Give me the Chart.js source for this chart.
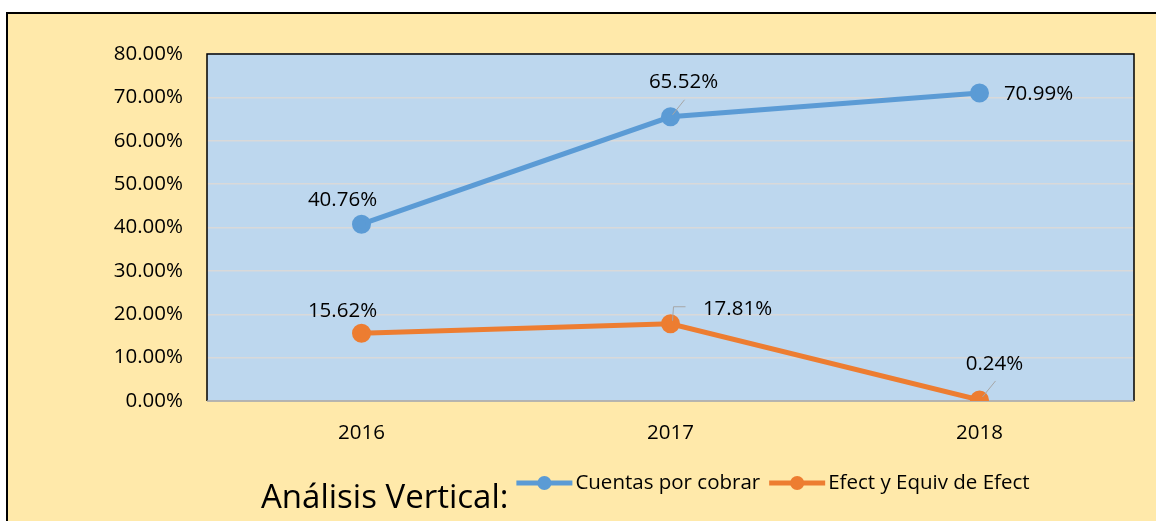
<!DOCTYPE html>
<html>
<head>
<meta charset="utf-8">
<script src="https://cdn.jsdelivr.net/npm/chart.js@4.4.1/dist/chart.umd.min.js"></script>
<style>
  html, body { margin: 0; padding: 0; background: #fff; }
  #wrap { width: 1156px; height: 521px; position: relative; }
</style>
</head>
<body>
<div id="wrap"><canvas id="chart" width="1156" height="521"></canvas></div>
<script>
const years    = ['2016', '2017', '2018'];
const cuentas  = [40.76, 65.52, 70.99];
const efectivo = [15.62, 17.81, 0.24];
const yTicks   = [0, 10, 20, 30, 40, 50, 60, 70, 80];
const legendTitle = 'Análisis Vertical:';

const FONT = "'Open Sans', sans-serif";
const FS = 20.5;
const colorBlue   = '#5B9BD5';
const colorOrange = '#ED7D31';
const colorPanel  = '#FFE9AA';
const colorPlot   = '#BDD7EE';
const colorGrid   = '#D9D9D9';

// label offsets from the point (px), and optional leader line segments
const labelPlacement = [
    [ { dx: -19, dy: -24 }, { dx: 13, dy: -35, lead: [[2, -2], [14, -17]] }, { dx: 59, dy: 1 } ],
    [ { dx: -19, dy: -22 }, { dx: 67, dy: -15, lead: [[2, -3], [3, -17], [15, -17]] }, { dx: 15, dy: -36, lead: [[3, -3], [16, -19]] } ],
];

const frame = {
    id: 'frame',
    beforeDraw(chart) {
        const { ctx, chartArea: a } = chart;
        ctx.save();
        ctx.fillStyle = colorPanel;
        ctx.fillRect(6, 12, chart.width, chart.height);
        ctx.strokeStyle = '#000';
        ctx.lineWidth = 2;
        ctx.beginPath();
        ctx.moveTo(7, chart.height + 2);
        ctx.lineTo(7, 13);
        ctx.lineTo(chart.width + 2, 13);
        ctx.stroke();
        ctx.fillStyle = colorPlot;
        ctx.fillRect(a.left, a.top, a.right - a.left, a.bottom - a.top);
        ctx.restore();
    },
    beforeDatasetsDraw(chart) {
        const { ctx, chartArea: a } = chart;
        ctx.save();
        ctx.strokeStyle = '#000';
        ctx.lineWidth = 1.5;
        ctx.beginPath();
        ctx.moveTo(a.left, a.bottom);
        ctx.lineTo(a.left, a.top);
        ctx.lineTo(a.right, a.top);
        ctx.lineTo(a.right, a.bottom);
        ctx.stroke();
        ctx.strokeStyle = '#A6A6A6';
        ctx.lineWidth = 1.5;
        ctx.beginPath();
        ctx.moveTo(a.left, a.bottom);
        ctx.lineTo(a.right, a.bottom);
        ctx.stroke();
        ctx.restore();
    },
};

const pointLabels = {
    id: 'pointLabels',
    afterDatasetsDraw(chart) {
        const { ctx } = chart;
        ctx.save();
        ctx.font = FS + 'px ' + FONT;
        ctx.fillStyle = '#000';
        ctx.textAlign = 'center';
        ctx.textBaseline = 'middle';
        chart.data.datasets.forEach((ds, i) => {
            chart.getDatasetMeta(i).data.forEach((pt, j) => {
                const p = labelPlacement[i][j];
                if (p.lead) {
                    ctx.strokeStyle = '#A6A6A6';
                    ctx.lineWidth = 1;
                    ctx.beginPath();
                    p.lead.forEach(([lx, ly], k) => {
                        if (k === 0) ctx.moveTo(pt.x + lx, pt.y + ly);
                        else ctx.lineTo(pt.x + lx, pt.y + ly);
                    });
                    ctx.stroke();
                }
                ctx.fillText(ds.data[j].toFixed(2) + '%', pt.x + p.dx, pt.y + p.dy);
            });
        });
        ctx.restore();
    },
};

const bottomLegend = {
    id: 'bottomLegend',
    afterDraw(chart) {
        const { ctx } = chart;
        ctx.save();
        ctx.fillStyle = '#000';
        ctx.textBaseline = 'alphabetic';
        ctx.font = '33px ' + FONT;
        let x = 261;
        ctx.fillText(legendTitle, x, 508);
        x += ctx.measureText(legendTitle).width + 8;
        ctx.font = FS + 'px ' + FONT;
        ctx.textBaseline = 'middle';
        const y = 483;
        chart.data.datasets.forEach(ds => {
            ctx.strokeStyle = ds.borderColor;
            ctx.lineWidth = 5;
            ctx.beginPath();
            ctx.moveTo(x, y);
            ctx.lineTo(x + 56, y);
            ctx.stroke();
            ctx.fillStyle = ds.borderColor;
            ctx.beginPath();
            ctx.arc(x + 28, y, 7, 0, Math.PI * 2);
            ctx.fill();
            ctx.fillStyle = '#000';
            ctx.fillText(ds.label, x + 59, y);
            x += 59 + ctx.measureText(ds.label).width + 9;
        });
        ctx.restore();
    },
};

new Chart(document.getElementById('chart'), {
    type: 'line',
    data: {
        labels: years,
        datasets: [
            {
                label: 'Cuentas por cobrar',
                data: cuentas,
                borderColor: colorBlue,
                backgroundColor: colorBlue,
                borderWidth: 5,
                pointRadius: 7,
                pointHoverRadius: 7,
                tension: 0,
            },
            {
                label: 'Efect y Equiv de Efect',
                data: efectivo,
                borderColor: colorOrange,
                backgroundColor: colorOrange,
                borderWidth: 5,
                pointRadius: 7,
                pointHoverRadius: 7,
                tension: 0,
            },
        ],
    },
    options: {
        responsive: false,
        animation: false,
        layout: { padding: { top: 54, right: 22, bottom: 0, left: 0 } },
        plugins: {
            legend: { display: false },
            tooltip: { enabled: false },
        },
        scales: {
            x: {
                offset: true,
                grid: { display: false, drawTicks: false },
                border: { display: false },
                ticks: {
                    color: '#000',
                    font: { family: FONT, size: FS },
                    padding: 20,
                },
                afterFit: (s) => { s.height = 120; },
            },
            y: {
                min: 0,
                max: 80,
                afterBuildTicks: (s) => { s.ticks = yTicks.map(v => ({ value: v })); },
                grid: { color: colorGrid, lineWidth: 1.5, drawTicks: false },
                border: { display: false },
                ticks: {
                    color: '#000',
                    font: { family: FONT, size: FS },
                    padding: 24,
                    callback: (v) => v.toFixed(2) + '%',
                },
                afterFit: (s) => { s.width = 207; },
            },
        },
    },
    plugins: [frame, pointLabels, bottomLegend],
});
</script>
</body>
</html>
